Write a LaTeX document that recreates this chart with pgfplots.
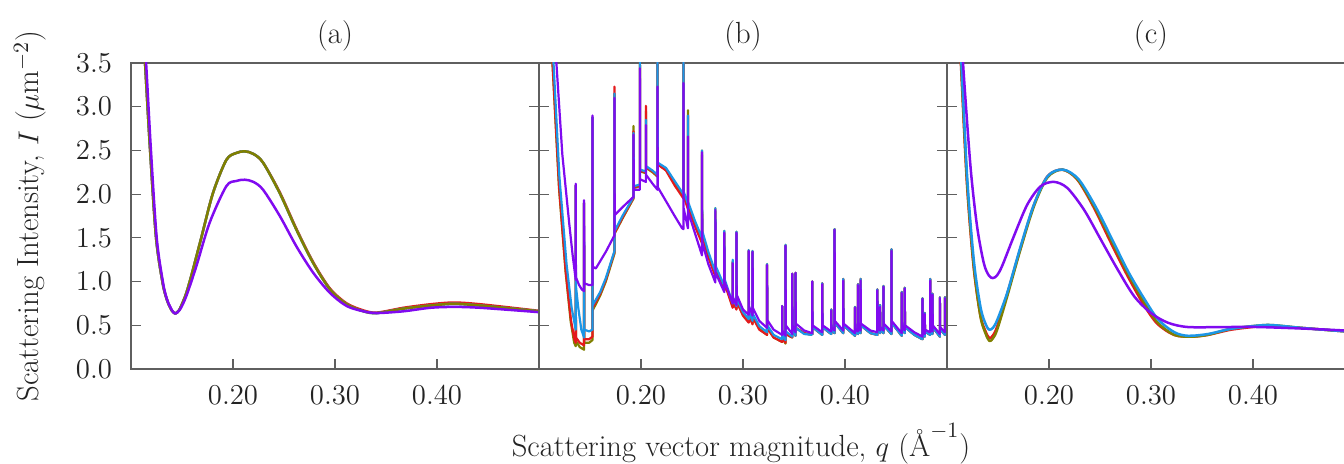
\documentclass[border=0pt]{standalone}
\usepackage{pgfplots}
\pgfplotsset{compat=1.18}
\usepackage{pgfplotstable}
\definecolor{cR}{RGB}{228,26,28}
\definecolor{cO}{RGB}{128,128,0}
\definecolor{cB}{RGB}{28,150,230}
\definecolor{cP}{RGB}{128,10,240}
\definecolor{axgray}{RGB}{95,95,95}
\definecolor{txt}{RGB}{35,35,35}

% ---------- panel (a) ----------
\pgfplotstableread{
q I
0.1125 3.76
0.1138 3.50
0.1187 2.51
0.1246 1.50
0.1311 0.98
0.1350 0.80
0.1377 0.72
0.1405 0.66
0.1436 0.635
0.1470 0.67
0.1492 0.72
0.1540 0.86
0.1590 1.06
0.1689 1.50
0.1803 2.01
0.1934 2.39
0.2030 2.47
0.2115 2.49
0.2200 2.46
0.2295 2.36
0.2459 2.01
0.2623 1.59
0.2787 1.21
0.2951 0.91
0.3115 0.74
0.3279 0.66
0.3410 0.64
0.3672 0.69
0.3934 0.725
0.4164 0.745
0.4426 0.725
0.5000 0.66
}\aO
\pgfplotstableread{
q I
0.1125 3.76
0.1138 3.50
0.1187 2.51
0.1246 1.50
0.1311 0.98
0.1350 0.80
0.1377 0.72
0.1405 0.66
0.1436 0.635
0.1470 0.67
0.1492 0.72
0.1540 0.86
0.1590 1.06
0.1689 1.50
0.1803 2.01
0.1934 2.39
0.2030 2.47
0.2115 2.49
0.2200 2.46
0.2295 2.36
0.2459 2.02
0.2623 1.60
0.2787 1.22
0.2951 0.92
0.3115 0.75
0.3279 0.67
0.3410 0.645
0.3672 0.70
0.3934 0.74
0.4164 0.76
0.4426 0.74
0.5000 0.665
}\aR
\pgfplotstableread{
q I
0.1130 3.76
0.1148 3.50
0.1195 2.51
0.1252 1.50
0.1315 0.98
0.1352 0.80
0.1380 0.72
0.1408 0.66
0.1436 0.635
0.1480 0.68
0.1541 0.83
0.1639 1.17
0.1770 1.67
0.1934 2.09
0.2030 2.15
0.2115 2.165
0.2200 2.14
0.2295 2.05
0.2459 1.75
0.2623 1.40
0.2787 1.10
0.2951 0.87
0.3115 0.72
0.3279 0.66
0.3410 0.64
0.3672 0.66
0.3934 0.70
0.4164 0.71
0.4426 0.70
0.5000 0.65
}\aP

% ---------- panel (b) ----------
\pgfplotstableread{
q I
0.1125 3.80
0.1170 3.51
0.1229 2.45
0.1295 1.68
0.1330 1.30
0.1360 1.02
0.1360 2.12
0.1362 1.05
0.1393 0.96
0.1420 0.91
0.1442 0.89
0.1442 1.93
0.1444 0.98
0.1491 0.96
0.1524 0.96
0.1524 2.90
0.1526 1.17
0.1557 1.15
0.1655 1.34
0.1740 1.53
0.1740 3.10
0.1742 1.76
0.1818 1.85
0.1927 1.97
0.1927 2.68
0.1929 2.05
0.1989 2.05
0.1989 3.44
0.1991 2.17
0.2048 2.14
0.2048 2.79
0.2050 2.22
0.2113 2.12
0.2162 2.05
0.2162 3.23
0.2164 2.08
0.2245 1.92
0.2330 1.75
0.2403 1.61
0.2416 1.60
0.2416 3.27
0.2418 1.84
0.2460 1.61
0.2460 2.66
0.2462 1.80
0.2530 1.55
0.2598 1.30
0.2598 2.48
0.2600 1.45
0.2660 1.20
0.2729 0.99
0.2729 1.82
0.2731 1.10
0.2817 0.88
0.2817 1.56
0.2819 1.00
0.2899 0.75
0.2899 1.21
0.2901 0.82
0.2936 0.73
0.2936 1.56
0.2938 0.85
0.3000 0.68
0.3056 0.62
0.3056 1.35
0.3058 0.72
0.3094 0.61
0.3094 1.34
0.3096 0.70
0.3160 0.55
0.3236 0.47
0.3236 1.19
0.3238 0.56
0.3300 0.45
0.3384 0.39
0.3384 0.72
0.3386 0.44
0.3417 0.38
0.3417 1.41
0.3419 0.50
0.3483 0.40
0.3483 1.09
0.3485 0.50
0.3515 0.42
0.3515 1.10
0.3517 0.52
0.3600 0.44
0.3679 0.41
0.3679 1.00
0.3681 0.50
0.3777 0.42
0.3777 0.97
0.3779 0.50
0.3865 0.43
0.3865 0.67
0.3867 0.48
0.3898 0.44
0.3898 1.59
0.3900 0.55
0.3983 0.44
0.3983 1.01
0.3985 0.52
0.4098 0.41
0.4098 0.70
0.4100 0.46
0.4127 0.43
0.4127 0.96
0.4129 0.50
0.4153 0.44
0.4153 1.01
0.4155 0.52
0.4250 0.44
0.4317 0.42
0.4317 0.90
0.4319 0.50
0.4344 0.44
0.4344 0.71
0.4346 0.48
0.4377 0.44
0.4377 0.94
0.4379 0.52
0.4455 0.43
0.4455 1.35
0.4457 0.55
0.4556 0.41
0.4556 0.87
0.4558 0.50
0.4586 0.44
0.4586 0.92
0.4588 0.50
0.4680 0.42
0.4760 0.37
0.4760 0.80
0.4762 0.45
0.4782 0.40
0.4782 0.63
0.4784 0.45
0.4835 0.42
0.4835 1.01
0.4837 0.50
0.4858 0.43
0.4858 0.85
0.4860 0.50
0.4930 0.40
0.4930 0.81
0.4932 0.48
0.4980 0.42
0.4980 0.81
0.4982 0.48
0.5000 0.46
}\bP
\pgfplotstableread{
q I
0.1120 3.80
0.1131 3.51
0.1196 2.07
0.1260 1.12
0.1311 0.54
0.1345 0.30
0.1360 0.26
0.1360 2.10
0.1362 0.32
0.1400 0.25
0.1442 0.22
0.1442 1.90
0.1444 0.30
0.1491 0.30
0.1524 0.33
0.1524 2.88
0.1526 0.67
0.1600 0.84
0.1655 1.00
0.1740 1.32
0.1740 3.15
0.1742 1.55
0.1818 1.72
0.1927 1.95
0.1927 2.78
0.1929 2.07
0.1989 2.09
0.1989 3.60
0.1991 2.26
0.2048 2.24
0.2048 2.95
0.2050 2.30
0.2113 2.25
0.2162 2.20
0.2162 3.60
0.2164 2.34
0.2245 2.28
0.2330 2.12
0.2416 1.97
0.2416 3.60
0.2418 2.00
0.2460 1.85
0.2460 2.96
0.2462 1.87
0.2530 1.65
0.2598 1.46
0.2598 2.50
0.2600 1.55
0.2660 1.30
0.2729 1.08
0.2729 1.84
0.2731 1.15
0.2817 0.92
0.2817 1.58
0.2819 1.00
0.2899 0.71
0.2899 1.23
0.2901 0.78
0.2936 0.69
0.2936 1.57
0.2938 0.78
0.3000 0.62
0.3056 0.54
0.3056 1.36
0.3058 0.62
0.3094 0.52
0.3094 1.35
0.3096 0.60
0.3160 0.46
0.3236 0.39
0.3236 1.20
0.3238 0.47
0.3300 0.36
0.3384 0.31
0.3384 0.72
0.3386 0.36
0.3417 0.29
0.3417 1.42
0.3419 0.40
0.3483 0.36
0.3483 1.09
0.3485 0.45
0.3515 0.38
0.3515 1.10
0.3517 0.47
0.3600 0.41
0.3679 0.39
}\bO
\pgfplotstableread{
q I
0.1122 3.80
0.1133 3.51
0.1198 2.07
0.1262 1.12
0.1313 0.56
0.1347 0.34
0.1360 0.30
0.1360 2.10
0.1362 0.36
0.1400 0.30
0.1442 0.27
0.1442 1.90
0.1444 0.34
0.1491 0.34
0.1524 0.37
0.1524 2.88
0.1526 0.70
0.1600 0.86
0.1655 1.02
0.1740 1.34
0.1740 3.23
0.1742 1.56
0.1818 1.73
0.1927 1.96
0.1927 2.72
0.1929 2.08
0.1989 2.10
0.1989 3.60
0.1991 2.27
0.2048 2.25
0.2048 3.01
0.2050 2.31
0.2113 2.26
0.2162 2.21
0.2162 3.60
0.2164 2.34
0.2245 2.27
0.2330 2.10
0.2416 1.95
0.2416 3.60
0.2418 1.98
0.2460 1.83
0.2460 2.90
0.2462 1.85
0.2530 1.63
0.2598 1.44
0.2598 2.45
0.2600 1.53
0.2660 1.28
0.2729 1.06
0.2729 1.80
0.2731 1.13
0.2817 0.90
0.2817 1.55
0.2819 0.98
0.2899 0.70
0.2899 1.22
0.2901 0.77
0.2936 0.68
0.2936 1.55
0.2938 0.77
0.3000 0.61
0.3056 0.53
0.3056 1.35
0.3058 0.61
0.3094 0.51
0.3094 1.34
0.3096 0.59
0.3160 0.45
0.3236 0.39
0.3236 1.19
0.3238 0.47
0.3300 0.36
0.3384 0.31
0.3384 0.72
0.3386 0.36
0.3417 0.30
0.3417 1.41
0.3419 0.40
0.3483 0.36
0.3483 1.09
0.3485 0.45
0.3515 0.38
0.3515 1.10
0.3517 0.47
0.3600 0.41
0.3679 0.39
}\bR
\pgfplotstableread{
q I
0.1130 3.80
0.1140 3.55
0.1200 2.20
0.1270 1.20
0.1320 0.70
0.1360 0.45
0.1360 2.10
0.1362 0.95
0.1385 0.70
0.1415 0.45
0.1442 0.36
0.1442 1.90
0.1444 0.45
0.1491 0.43
0.1524 0.45
0.1524 2.88
0.1526 0.73
0.1600 0.88
0.1655 1.04
0.1740 1.35
0.1740 3.15
0.1742 1.58
0.1818 1.75
0.1927 1.97
0.1927 2.70
0.1929 2.09
0.1989 2.11
0.1989 3.60
0.1991 2.28
0.2048 2.26
0.2048 2.85
0.2050 2.32
0.2113 2.27
0.2162 2.22
0.2162 3.60
0.2164 2.36
0.2245 2.30
0.2330 2.15
0.2416 2.00
0.2416 3.60
0.2418 2.03
0.2460 1.89
0.2460 2.90
0.2462 1.91
0.2530 1.69
0.2598 1.50
0.2598 2.50
0.2600 1.58
0.2660 1.34
0.2729 1.11
0.2729 1.84
0.2731 1.18
0.2817 0.95
0.2817 1.58
0.2819 1.03
0.2899 0.75
0.2899 1.25
0.2901 0.81
0.2936 0.72
0.2936 1.57
0.2938 0.81
0.3000 0.65
0.3056 0.57
0.3056 1.36
0.3058 0.65
0.3094 0.55
0.3094 1.35
0.3096 0.63
0.3160 0.49
0.3236 0.42
0.3236 1.20
0.3238 0.50
0.3300 0.39
0.3384 0.34
0.3384 0.72
0.3386 0.39
0.3417 0.33
0.3417 1.42
0.3419 0.43
0.3483 0.37
0.3483 1.09
0.3485 0.46
0.3515 0.38
0.3515 1.10
0.3517 0.47
0.3600 0.40
0.3679 0.39
}\bB
\pgfplotstableread{
q I
0.3679 0.39
0.3679 1.00
0.3681 0.48
0.3777 0.39
0.3777 0.98
0.3779 0.48
0.3865 0.40
0.3865 0.68
0.3867 0.46
0.3898 0.41
0.3898 1.60
0.3900 0.53
0.3983 0.41
0.3983 1.03
0.3985 0.50
0.4098 0.38
0.4098 0.71
0.4100 0.44
0.4127 0.40
0.4127 0.97
0.4129 0.48
0.4153 0.41
0.4153 1.03
0.4155 0.50
0.4250 0.41
0.4317 0.39
0.4317 0.91
0.4319 0.48
0.4344 0.41
0.4344 0.73
0.4346 0.46
0.4377 0.41
0.4377 0.95
0.4379 0.50
0.4455 0.40
0.4455 1.37
0.4457 0.53
0.4556 0.38
0.4556 0.88
0.4558 0.48
0.4586 0.41
0.4586 0.93
0.4588 0.48
0.4680 0.39
0.4760 0.34
0.4760 0.81
0.4762 0.43
0.4782 0.37
0.4782 0.64
0.4784 0.43
0.4835 0.39
0.4835 1.03
0.4837 0.48
0.4858 0.40
0.4858 0.86
0.4860 0.48
0.4930 0.37
0.4930 0.82
0.4932 0.46
0.4980 0.39
0.4980 0.82
0.4982 0.46
0.5000 0.44
}\bT

% ---------- panel (c) ----------
\pgfplotstableread{
q I
0.1125 3.80
0.1138 3.50
0.1197 2.13
0.1262 1.18
0.1328 0.60
0.1380 0.40
0.1416 0.32
0.1450 0.35
0.1492 0.45
0.1590 0.83
0.1721 1.37
0.1852 1.86
0.1984 2.19
0.2131 2.28
0.2279 2.17
0.2443 1.86
0.2607 1.48
0.2770 1.10
0.2934 0.76
0.3066 0.53
0.3230 0.39
0.3393 0.37
0.3557 0.39
0.3787 0.46
0.4082 0.50
0.4213 0.50
0.4475 0.47
0.4908 0.43
0.5000 0.425
}\cO
\pgfplotstableread{
q I
0.1123 3.80
0.1136 3.50
0.1195 2.13
0.1260 1.18
0.1326 0.62
0.1378 0.43
0.1414 0.355
0.1448 0.38
0.1490 0.48
0.1588 0.85
0.1720 1.38
0.1850 1.87
0.1982 2.20
0.2130 2.28
0.2275 2.17
0.2438 1.85
0.2600 1.46
0.2763 1.08
0.2926 0.74
0.3060 0.52
0.3225 0.39
0.3390 0.37
0.3557 0.39
0.3787 0.45
0.4082 0.49
0.4213 0.49
0.4475 0.47
0.4908 0.43
0.5000 0.425
}\cR
\pgfplotstableread{
q I
0.1128 3.80
0.1141 3.50
0.1200 2.15
0.1265 1.22
0.1330 0.70
0.1380 0.51
0.1413 0.45
0.1450 0.47
0.1492 0.56
0.1590 0.87
0.1721 1.40
0.1852 1.88
0.1990 2.21
0.2141 2.28
0.2290 2.17
0.2455 1.86
0.2620 1.48
0.2783 1.10
0.2946 0.78
0.3075 0.56
0.3230 0.42
0.3361 0.38
0.3557 0.40
0.3787 0.46
0.4082 0.50
0.4213 0.50
0.4475 0.47
0.4908 0.43
0.5000 0.425
}\cB
\pgfplotstableread{
q I
0.1150 3.80
0.1157 3.50
0.1230 2.32
0.1295 1.63
0.1361 1.21
0.1410 1.07
0.1449 1.04
0.1490 1.07
0.1541 1.18
0.1656 1.52
0.1787 1.88
0.1918 2.09
0.2049 2.14
0.2180 2.07
0.2344 1.82
0.2508 1.48
0.2672 1.14
0.2836 0.83
0.3000 0.64
0.3164 0.53
0.3361 0.48
0.3721 0.48
0.4049 0.48
0.4541 0.46
0.4908 0.44
0.5000 0.435
}\cP

\pgfplotsset{
  panel/.style={
    width=204pt, height=153pt, scale only axis,
    xmin=0.1, xmax=0.5, ymin=0, ymax=3.5,
    xtick={0.2,0.3,0.4}, ytick={0,0.5,...,3.5},
    tick align=inside, xtick pos=bottom, ytick pos=both,
    major tick length=5pt,
    axis line style={axgray, line width=0.6pt},
    every tick/.style={axgray, line width=0.6pt},
    tick label style={font=\fontsize{14.5}{17}\selectfont},
    xticklabel style={/pgf/number format/fixed, /pgf/number format/fixed zerofill, /pgf/number format/precision=2, yshift=-5pt, text=txt},
    yticklabel style={/pgf/number format/fixed, /pgf/number format/fixed zerofill, /pgf/number format/precision=1, xshift=-6pt, text=txt},
    every axis plot/.append style={line width=1.25pt, line join=round},
  },
}

\begin{document}
\begin{tikzpicture}[font=\fontsize{15.3}{18}\selectfont]
\begin{scope}
\clip (-65.5pt,-47.5pt) rectangle (606.5pt,184.5pt);
\begin{axis}[panel, at={(0pt,0pt)}, anchor=south west]
  \addplot[cR, smooth, tension=0.5] table[x=q,y=I] {\aR};
  \addplot[cB, smooth, tension=0.5] table[x=q,y=I] {\aO};
  \addplot[cO, smooth, tension=0.5] table[x=q,y=I] {\aO};
  \addplot[cP, smooth, tension=0.5] table[x=q,y=I] {\aP};
\end{axis}
\begin{axis}[panel, at={(204pt,0pt)}, anchor=south west, yticklabels={}]
  \addplot[cO, line width=1.1pt] table[x=q,y=I] {\bO};
  \addplot[cO, line width=1.1pt] table[x=q,y=I] {\bT};
  \addplot[cR, line width=1.1pt] table[x=q,y=I] {\bR};
  \addplot[cR, line width=1.1pt] table[x=q,y=I] {\bT};
  \addplot[cB, line width=1.1pt] table[x=q,y=I] {\bB};
  \addplot[cB, line width=1.1pt] table[x=q,y=I] {\bT};
  \addplot[cP, line width=1.1pt] table[x=q,y=I] {\bP};
\end{axis}
\begin{axis}[panel, at={(408pt,0pt)}, anchor=south west, yticklabels={}]
  \addplot[cR, smooth, tension=0.5] table[x=q,y=I] {\cR};
  \addplot[cO, smooth, tension=0.5] table[x=q,y=I] {\cO};
  \addplot[cB, smooth, tension=0.5] table[x=q,y=I] {\cB};
  \addplot[cP, smooth, tension=0.5] table[x=q,y=I] {\cP};
\end{axis}
\node[text=txt] at (102pt,166.5pt) {(a)};
\node[text=txt] at (306pt,166.5pt) {(b)};
\node[text=txt] at (510pt,166.5pt) {(c)};
\node[text=txt] at (305pt,-37.5pt) {Scattering vector magnitude, $q$ ($\mbox{\AA}^{-1}$)};
\node[text=txt, rotate=90] at (-50.5pt,76.5pt) {Scattering Intensity, $I$ ($\mu$m$^{-2}$)};
\end{scope}
\pgfresetboundingbox
\useasboundingbox (-65.5pt,-47.5pt) rectangle (606.5pt,184.5pt);
\end{tikzpicture}
\end{document}
